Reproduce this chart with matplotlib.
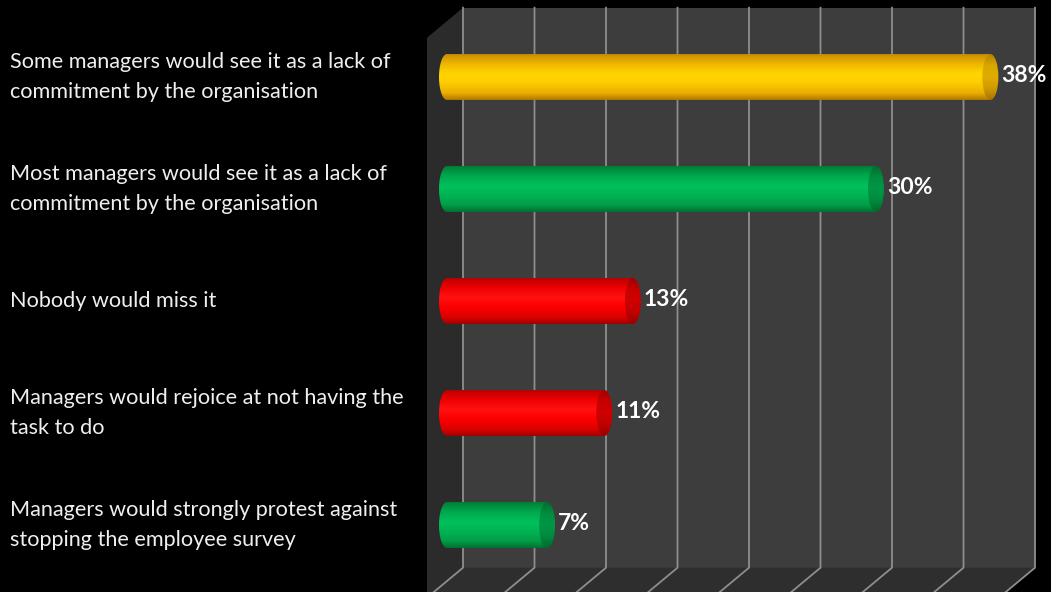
import numpy as np
import matplotlib
matplotlib.use("Agg")
import matplotlib.pyplot as plt
from matplotlib.colors import LinearSegmentedColormap
from matplotlib.patches import Polygon, Ellipse
from matplotlib.transforms import IdentityTransform, blended_transform_factory

# ---- data -------------------------------------------------------------
categories = [
    "Some managers would see it as a lack of\ncommitment by the organisation",
    "Most managers would see it as a lack of\ncommitment by the organisation",
    "Nobody would miss it",
    "Managers would rejoice at not having the\ntask to do",
    "Managers would strongly protest against\nstopping the employee survey",
]
values = [38, 30, 13, 11, 7]
value_labels = ["38%", "30%", "13%", "11%", "7%"]
bar_colors = ["yellow", "green", "red", "red", "green"]
x_ticks = [0, 5, 10, 15, 20, 25, 30, 35, 40]

# ---- styling ----------------------------------------------------------
W, H, DPI = 1051, 592, 100
FONT = "Lato"
gradients = {
    "yellow": (["#C98C00", "#EDB400", "#FFD500", "#FFCF00", "#EAAE00", "#B07A00"],
               ["#B88400", "#D9A600", "#E0AC00", "#D09A00", "#A87400"]),
    "green": (["#007F36", "#00A64C", "#00C05C", "#00B755", "#009E48", "#00722F"],
              ["#006E2E", "#008E40", "#009645", "#008A3E", "#006A2C"]),
    "red": (["#B80000", "#EE0000", "#FF1212", "#FF0000", "#DD0000", "#A00000"],
            ["#A00000", "#C80000", "#D00000", "#C00000", "#9A0000"]),
}
stops = [0, 0.2, 0.42, 0.6, 0.85, 1.0]

fig = plt.figure(figsize=(W / DPI, H / DPI), dpi=DPI, facecolor="black")
ax = fig.add_axes([0, 0, 1, 1])
ax.set_facecolor("black")
ax.axis("off")

# value axis: pixels per percent, zero at x = 447 px
px_per_pct = 14.3
x0_px = 447
# category axis: 112 px per category, first bar centred at y = 77 px
px_per_cat = 112
y0_px = 77


def set_limits():
    ax.set_xlim(-x0_px / px_per_pct, (W - x0_px) / px_per_pct)
    ax.set_ylim((H - y0_px) / px_per_cat, -y0_px / px_per_cat)


set_limits()

# depth offsets (display pixels, y up) for the back and front planes
BACK = np.array([16.0, 13.3])
FRONT = np.array([-20.0, -16.7])
y_top, y_bot = -0.5, len(categories) - 0.5


def proj(x, y, off):
    p = ax.transData.transform((x, y))
    return p + off


def poly(points, **kw):
    ax.add_patch(Polygon(points, closed=True, transform=IdentityTransform(), **kw))


xmin, xmax = x_ticks[0], x_ticks[-1]
# back wall
poly([proj(xmin, y_top, BACK), proj(xmax, y_top, BACK),
      proj(xmax, y_bot, BACK), proj(xmin, y_bot, BACK)],
     facecolor="#3D3D3D", edgecolor="none", zorder=1)
# side wall
poly([proj(xmin, y_top, BACK), proj(xmin, y_bot, BACK),
      proj(xmin, y_bot, FRONT), proj(xmin, y_top, FRONT)],
     facecolor="#2B2B2B", edgecolor="none", zorder=1)
# floor
poly([proj(xmin, y_bot, BACK), proj(xmax, y_bot, BACK),
      proj(xmax, y_bot, FRONT), proj(xmin, y_bot, FRONT)],
     facecolor="#2E2E2E", edgecolor="none", zorder=1)

# gridlines on the back wall and the floor
for t in x_ticks:
    a, b = proj(t, y_top, BACK), proj(t, y_bot, BACK)
    c = proj(t, y_bot, FRONT)
    ax.plot([a[0], b[0], c[0]], [a[1], b[1], c[1]], color="#8E8E8E",
            lw=1.3, transform=IdentityTransform(), zorder=2,
            solid_joinstyle="miter")

# cylinder bars
bar_h = 0.41
cap_w = 16 / px_per_pct
for i, (v, cname) in enumerate(zip(values, bar_colors)):
    body, face = gradients[cname]
    cmap = LinearSegmentedColormap.from_list(cname, list(zip(stops, body)))
    grad = np.linspace(0, 1, 128).reshape(-1, 1)
    yt, yb = i - bar_h / 2, i + bar_h / 2
    # outline: rounded left end + straight body up to the value
    th = np.linspace(np.pi / 2, 3 * np.pi / 2, 60)
    left = np.column_stack([cap_w / 2 * np.cos(th), i - bar_h / 2 * np.sin(th)])
    outline = np.vstack([left, [[v, yb], [v, yt]]])
    clip = Polygon(outline, closed=True, transform=ax.transData,
                   facecolor="none", edgecolor="none")
    ax.add_patch(clip)
    im = ax.imshow(grad, cmap=cmap, extent=(-cap_w / 2, v, yb, yt),
                   origin="upper", aspect="auto", zorder=3,
                   interpolation="bilinear")
    im.set_clip_path(clip)

    # end face of the cylinder
    fcmap = LinearSegmentedColormap.from_list(cname + "_f", face)
    fclip = Ellipse((v, i), cap_w, bar_h, transform=ax.transData,
                    facecolor="none", edgecolor="none")
    ax.add_patch(fclip)
    fim = ax.imshow(np.linspace(0, 1, 64).reshape(-1, 1), cmap=fcmap,
                    extent=(v - cap_w / 2, v + cap_w / 2, yb, yt),
                    origin="upper", aspect="auto", zorder=4,
                    interpolation="bilinear")
    fim.set_clip_path(fclip)

    # value label
    ax.text(v + cap_w / 2 + 0.2, i - 0.01, value_labels[i], color="white",
            fontsize=16.5, fontweight="bold", family=FONT,
            ha="left", va="center", zorder=5)

# category labels
tr = blended_transform_factory(ax.transAxes, ax.transData)
for i, lab in enumerate(categories):
    ax.text(10 / W, i, lab, transform=tr, color="#EFEFEF", fontsize=15.6,
            family=FONT, ha="left", va="center", linespacing=1.62, zorder=5)

set_limits()
ax.set_aspect("auto")

fig.savefig("out.png", dpi=DPI, facecolor="black")
